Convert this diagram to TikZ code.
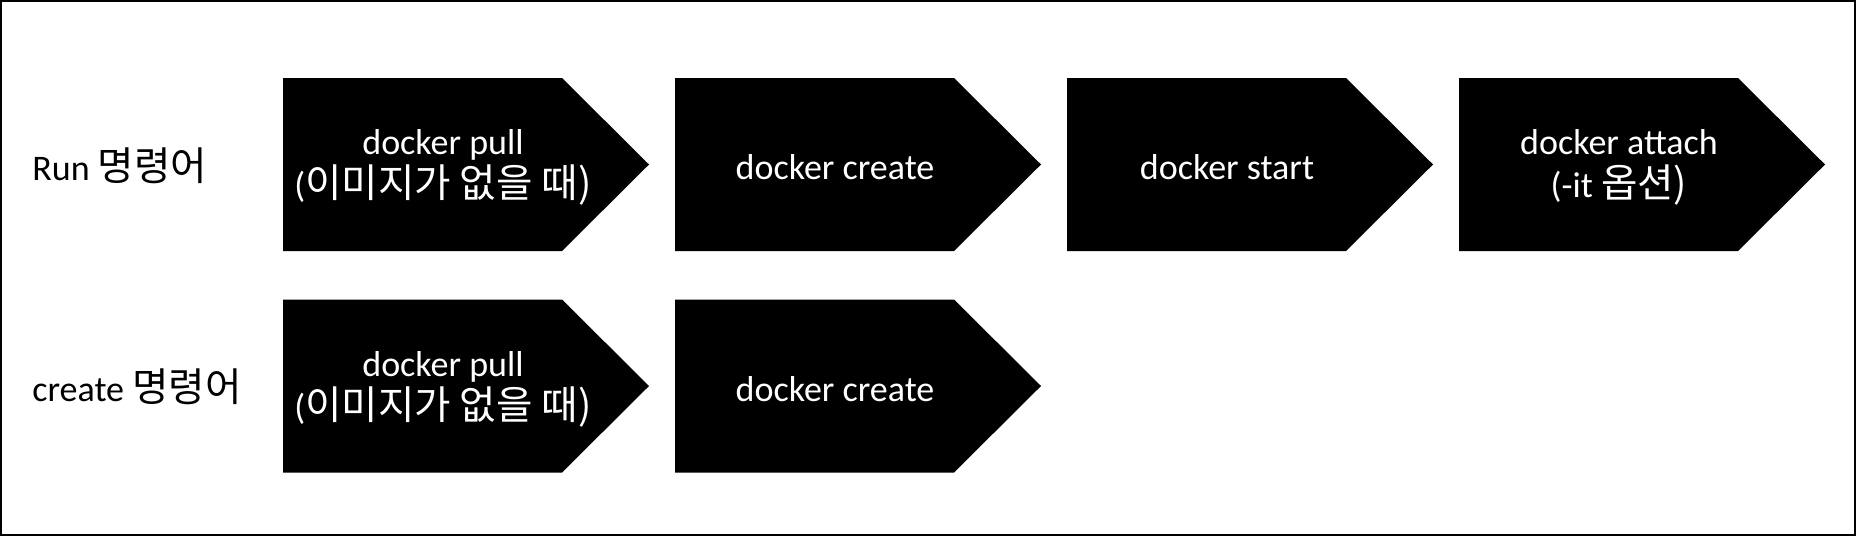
\documentclass[tikz,border=0pt]{standalone}
\usepackage{fontspec}
\setmainfont{Carlito}
\newfontfamily\kr[Scale=1.1]{Noto Sans CJK KR}
\newcommand{\mychev}[3]{%
  \fill[chev] ({#1},{#2-86.5}) -- ++(279,0) -- ++(87,86.5) -- ++(-87,86.5) -- ++(-279,0) -- cycle;
  \coordinate (#3) at ({#1+160},{#2+3});}
\tikzset{
  chev/.style={fill=black},
  ctext/.style={text=white, align=center, inner sep=0pt, font=\fontsize{18}{21.5}\selectfont},
  rowlabel/.style={anchor=west, inner sep=0pt, text=black, font=\fontsize{18}{21.5}\selectfont},
}
\begin{document}
\begin{tikzpicture}[x=0.5pt,y=-0.5pt]
\useasboundingbox (0,0) rectangle (1856,536);
\draw[line width=1.1pt] (1.2,1.2) rectangle (1854.8,534.8);
% row 1
\mychev{283}{164.5}{c1}
\mychev{675}{164.5}{c2}
\mychev{1067}{164.5}{c3}
\mychev{1459}{164.5}{c4}
% row 2
\mychev{283}{386}{d1}
\mychev{675}{386}{d2}
\node[rowlabel] (l1) at (32,166) {Run \kr{명령어}};
\node[rowlabel] (l2) at (32,387) {create \kr{명령어}};
\node[ctext] (t1) at (c1) {docker pull\\(\kr{이미지가} \kr{없을} \kr{때})};
\node[ctext] (t2) at (c2) {docker create};
\node[ctext] (t3) at (c3) {docker start};
\node[ctext] (t4) at (c4) {docker attach\\(-it \kr{옵션})};
\node[ctext] (u1) at (d1) {docker pull\\(\kr{이미지가} \kr{없을} \kr{때})};
\node[ctext] (u2) at (d2) {docker create};
\end{tikzpicture}
\end{document}
